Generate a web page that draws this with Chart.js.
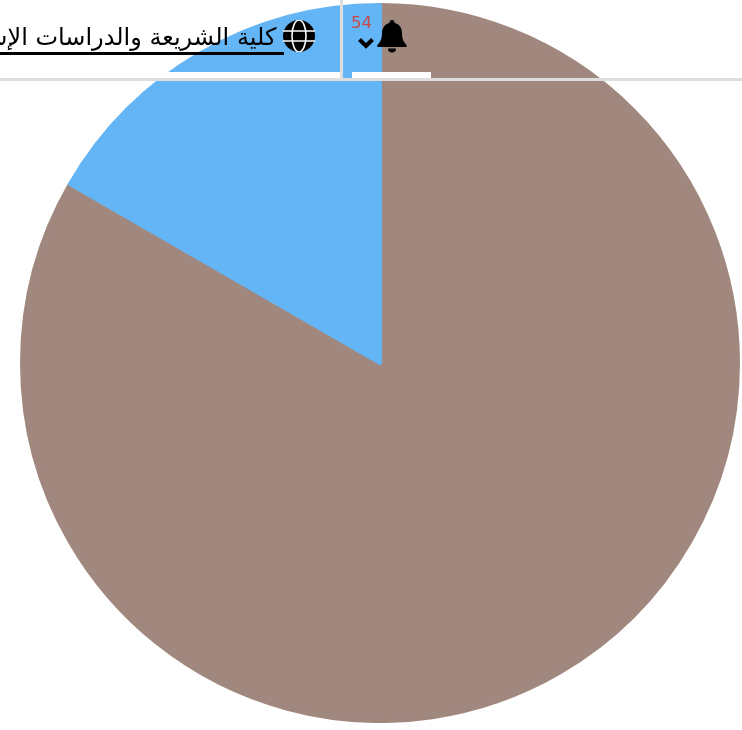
<!DOCTYPE html>
<html lang="ar">
<head>
<meta charset="utf-8">
<title>Pie</title>
<script src="https://cdn.jsdelivr.net/npm/chart.js@4"></script>
<style>
    html, body { margin: 0; padding: 0; background: #fff; overflow: hidden; }
    body { width: 742px; height: 730px; position: relative; font-family: "DejaVu Sans", sans-serif; }
    #chartBox { position: absolute; left: 20px; top: 3px; width: 720px; height: 720px; }
    .bar { position: absolute; }
    #title {
        position: absolute; left: 0; top: 19px; width: 284px; height: 44px; overflow: hidden;
        direction: rtl; white-space: pre; font-size: 24px; line-height: 36px; color: #000;
    }
    #title a { color: #000; text-decoration: underline; text-decoration-thickness: 3px; text-underline-offset: 7px; }
    #count { position: absolute; left: 351px; top: 13px; font-size: 16.5px; line-height: 20px; color: #c9484a; }
    svg { position: absolute; }
</style>
</head>
<body>
<div id="chartBox"><canvas id="pie" width="720" height="720"></canvas></div>

<div class="bar" style="left:0;top:72px;width:340px;height:6px;background:#fff"></div>
<div class="bar" style="left:352px;top:72px;width:79px;height:6px;background:#fff"></div>
<div class="bar" style="left:0;top:78px;width:742px;height:3px;background:#ddd"></div>
<div class="bar" style="left:340px;top:0;width:3px;height:79px;background:#ddd"></div>

<div id="title"><a href="#">&nbsp;كلية الشريعة والدراسات الإسلامية</a></div>
<svg style="left:283px;top:20px" width="32" height="32" viewBox="0 0 32 32">
    <circle cx="16" cy="16" r="16" fill="#000"/>
    <g fill="none" stroke="#fff" stroke-width="1.6">
        <ellipse cx="16" cy="16" rx="7" ry="16"/>
        <path d="M0 11h32M0 21h32"/>
    </g>
</svg>
<div id="count">54</div>
<svg style="left:357px;top:37px" width="18" height="12" viewBox="0 0 18 12">
    <path d="M2.500 2.500L9 9L15.500 2.500" fill="none" stroke="#000" stroke-width="4"/>
</svg>
<svg style="left:377px;top:20px" width="30" height="33" viewBox="0 0 30 33">
    <path d="M15 0a2.500 2.500 0 0 1 2.500 3c5 1 7.500 5 7.500 10 0 7 2 9 4.500 12 .8 1 .2 2-1 2H1.500c-1.200 0-1.800-1-1-2C3 22 5 20 5 13 5 8 8 4 12.500 3A2.500 2.500 0 0 1 15 0z" fill="#000"/>
    <path d="M11 28.500h8a4 4 0 0 1-8 0z" fill="#000"/>
</svg>

<script>
    const categories = ['الفئة الأولى', 'الفئة الثانية'];
    const seriesValues = [5, 1];
    const sliceColors = ['#A1887F', '#64B5F6'];

    new Chart(document.getElementById('pie'), {
        type: 'pie',
        data: {
            labels: categories,
            datasets: [{
                data: seriesValues,
                backgroundColor: sliceColors,
                borderColor: sliceColors,
                borderWidth: 4,
                borderJoinStyle: 'round'
            }]
        },
        options: {
            responsive: false,
            animation: false,
            layout: { padding: 0 },
            plugins: {
                legend: { display: false },
                tooltip: { enabled: false }
            }
        }
    });
</script>
</body>
</html>
